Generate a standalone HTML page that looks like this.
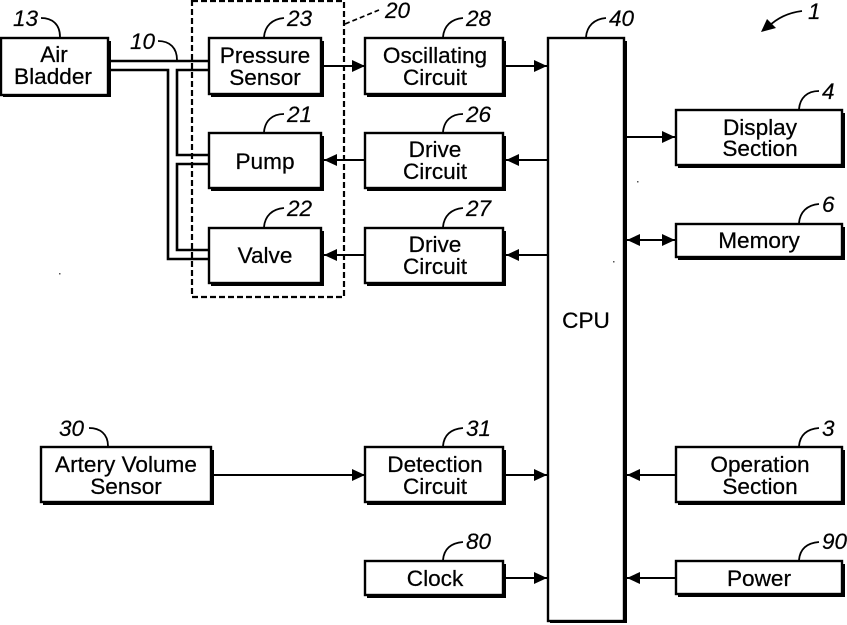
<!DOCTYPE html>
<html><head><meta charset="utf-8"><style>
html,body{margin:0;padding:0;background:#fff}
svg{display:block}
.t{font-family:"Liberation Sans",sans-serif;font-size:22.6px;text-anchor:middle;fill:#000;stroke:#000;stroke-width:.25px}
.n{font-family:"Liberation Sans",sans-serif;font-size:22.5px;font-style:italic;fill:#000;stroke:#000;stroke-width:.2px}
</style></head><body>
<svg width="847" height="625" viewBox="0 0 847 625" xmlns="http://www.w3.org/2000/svg">
<defs>
<marker id="a" markerUnits="userSpaceOnUse" markerWidth="15" markerHeight="14" refX="13.5" refY="7" orient="auto-start-reverse"><path d="M.5 1L13.5 7L.5 13z" fill="#000"/></marker>
</defs>
<rect width="847" height="625" fill="#fff"/>
<!-- dashed enclosure -->
<rect x="192" y="1" width="152" height="296" fill="none" stroke="#000" stroke-width="2.2" stroke-dasharray="6 3"/>
<path d="M345 24L379 10" fill="none" stroke="#000" stroke-width="1.7" stroke-dasharray="5 3"/>
<!-- tubes -->
<g fill="none" stroke="#000" stroke-width="2.6">
<path d="M108 61H209"/>
<path d="M108 70H168V259H209"/>
<path d="M209 70H177V155H209"/>
<path d="M209 164H177V250H209"/>
</g>
<!-- boxes -->
<g fill="#fff" stroke="#000" stroke-width="2.4">
<g fill="#000" stroke="none">
<rect x="3" y="41" width="108" height="56"/>
<rect x="211" y="41" width="113" height="56"/>
<rect x="211" y="136" width="113" height="55"/>
<rect x="211" y="231" width="113" height="55"/>
<rect x="367" y="41" width="139" height="56"/>
<rect x="367" y="136" width="139" height="55"/>
<rect x="367" y="231" width="139" height="55"/>
<rect x="550" y="41" width="77" height="582"/>
<rect x="678" y="113" width="167" height="55"/>
<rect x="678" y="227" width="167" height="33"/>
<rect x="43" y="450" width="171" height="55"/>
<rect x="367" y="450" width="139" height="55"/>
<rect x="367" y="564" width="139" height="34"/>
<rect x="678" y="450" width="167" height="55"/>
<rect x="678" y="564" width="167" height="33"/>
</g>
<rect x="1" y="38" width="107" height="57"/>
<rect x="209" y="38" width="112" height="56"/>
<rect x="209" y="133" width="112" height="55"/>
<rect x="209" y="228" width="112" height="55"/>
<rect x="365" y="38" width="138" height="56"/>
<rect x="365" y="133" width="138" height="55"/>
<rect x="365" y="228" width="138" height="55"/>
<rect x="548" y="38" width="76" height="583"/>
<rect x="676" y="110" width="166" height="55"/>
<rect x="676" y="224" width="166" height="33"/>
<rect x="41" y="447" width="170" height="55"/>
<rect x="365" y="447" width="138" height="55"/>
<rect x="365" y="561" width="138" height="34"/>
<rect x="676" y="447" width="166" height="55"/>
<rect x="676" y="561" width="166" height="33"/>
</g>
<!-- connectors -->
<g fill="none" stroke="#000" stroke-width="2">
<path d="M324 66H365" marker-end="url(#a)"/>
<path d="M506 66H547" marker-end="url(#a)"/>
<path d="M547 160H506" marker-end="url(#a)"/>
<path d="M365 160H324" marker-end="url(#a)"/>
<path d="M547 255H506" marker-end="url(#a)"/>
<path d="M365 255H324" marker-end="url(#a)"/>
<path d="M627 137H675" marker-end="url(#a)"/>
<path d="M627 240H675" marker-start="url(#a)" marker-end="url(#a)"/>
<path d="M214 475H365" marker-end="url(#a)"/>
<path d="M506 475H547" marker-end="url(#a)"/>
<path d="M506 578H547" marker-end="url(#a)"/>
<path d="M676 475H627" marker-end="url(#a)"/>
<path d="M676 578H627" marker-end="url(#a)"/>
</g>
<!-- leaders -->
<g fill="none" stroke="#000" stroke-width="1.8">
<path d="M41 18C52 18 60 24 60 37"/>
<path d="M158 41C170 41 177 48 177 60"/>
<path d="M264 37C265 26 272 19 284 18"/>
<path d="M264 132C265 121 272 114 284 114"/>
<path d="M264 227C265 216 272 209 284 208"/>
<path d="M443 37C444 26 451 19 463 18"/>
<path d="M443 132C444 121 451 114 463 114"/>
<path d="M443 227C444 216 451 209 463 208"/>
<path d="M586 37C587 26 594 19 606 18"/>
<path d="M799 109C800 98 807 91 819 91"/>
<path d="M799 223C800 212 807 205 819 204"/>
<path d="M89 428C100 428 108 434 108 446"/>
<path d="M443 446C444 435 451 429 463 428"/>
<path d="M443 560C444 549 451 543 463 542"/>
<path d="M799 446C800 435 807 429 819 428"/>
<path d="M799 560C800 549 807 543 819 542"/>
<path d="M802 11C786 13 775 20 768 27"/>
</g>
<path d="M761 32L767 19L776 28z" fill="#000"/>
<!-- specks -->
<g fill="#555">
<rect x="59" y="273" width="1.5" height="1.5"/>
<rect x="637" y="181" width="1.5" height="1.5"/>
<rect x="613" y="261" width="1.5" height="1.5"/>
</g>
<!-- box text -->
<text class="t" x="54" y="62">Air</text>
<text class="t" x="53" y="84">Bladder</text>
<text class="t" x="265" y="63">Pressure</text>
<text class="t" x="265" y="85">Sensor</text>
<text class="t" x="265" y="169">Pump</text>
<text class="t" x="265" y="263">Valve</text>
<text class="t" x="435" y="63">Oscillating</text>
<text class="t" x="435" y="85">Circuit</text>
<text class="t" x="435" y="157">Drive</text>
<text class="t" x="435" y="179">Circuit</text>
<text class="t" x="435" y="252">Drive</text>
<text class="t" x="435" y="274">Circuit</text>
<text class="t" x="586" y="328">CPU</text>
<text class="t" x="760" y="135">Display</text>
<text class="t" x="760" y="156">Section</text>
<text class="t" x="759" y="248">Memory</text>
<text class="t" x="126" y="472">Artery Volume</text>
<text class="t" x="126" y="494">Sensor</text>
<text class="t" x="435" y="472">Detection</text>
<text class="t" x="435" y="494">Circuit</text>
<text class="t" x="435" y="586">Clock</text>
<text class="t" x="760" y="472">Operation</text>
<text class="t" x="760" y="494">Section</text>
<text class="t" x="759" y="586">Power</text>
<!-- reference numbers -->
<text class="n" x="13" y="26">13</text>
<text class="n" x="130" y="49">10</text>
<text class="n" x="287" y="26">23</text>
<text class="n" x="287" y="122">21</text>
<text class="n" x="287" y="216">22</text>
<text class="n" x="385" y="18">20</text>
<text class="n" x="466" y="26">28</text>
<text class="n" x="466" y="122">26</text>
<text class="n" x="466" y="216">27</text>
<text class="n" x="609" y="26">40</text>
<text class="n" x="808" y="19">1</text>
<text class="n" x="822" y="99">4</text>
<text class="n" x="822" y="212">6</text>
<text class="n" x="59" y="436">30</text>
<text class="n" x="466" y="436">31</text>
<text class="n" x="466" y="549">80</text>
<text class="n" x="822" y="436">3</text>
<text class="n" x="822" y="549">90</text>
</svg>
</body></html>
